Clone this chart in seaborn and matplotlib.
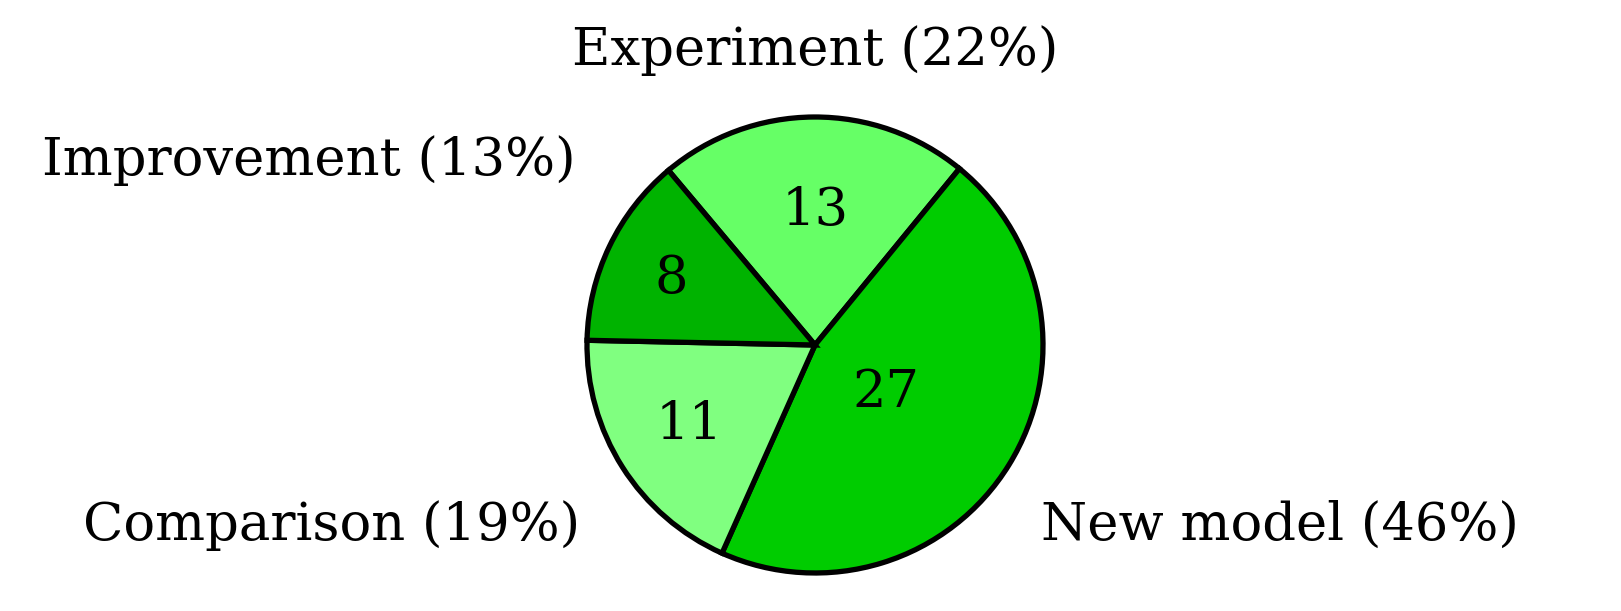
import matplotlib
matplotlib.use("Agg")
import matplotlib.pyplot as plt
import seaborn as sns

sns.set_theme(style="white")
plt.rcParams['font.family'] = ['DejaVu Serif']

categories = ["Experiment", "New model", "Comparison", "Improvement"]
values = [13, 27, 11, 8]
percents = ["22%", "46%", "19%", "13%"]
colors = ["#66ff66", "#00cc00", "#80ff80", "#00b300"]

fig = plt.figure(figsize=(16.21, 6.11), dpi=100)
ax = fig.add_axes([0, 0, 1, 1])
wedges, texts, autotexts = ax.pie(
    values, colors=colors, startangle=130, counterclock=False,
    labels=[f"{c} ({p})" for c, p in zip(categories, percents)],
    autopct=lambda p: f"{round(p * sum(values) / 100):d}",
    wedgeprops=dict(edgecolor="black", linewidth=3.8),
    textprops=dict(fontsize=38, color="black"))
label_pos = [(0, 1.29, "center"), (0.99, -0.79, "left"),
             (-1.03, -0.79, "right"), (-1.05, 0.81, "right")]
for t, (x, y, ha) in zip(texts, label_pos):
    t.set_position((x, y)); t.set_ha(ha); t.set_va("center")
num_pos = [(0, 0.59), (0.31, -0.21), (-0.55, -0.35), (-0.63, 0.29)]
for t, (x, y) in zip(autotexts, num_pos):
    t.set_position((x, y)); t.set_ha("center"); t.set_va("center")
ax.set_xlim(-815 / 228, (1621 - 815) / 228)
ax.set_ylim(-(611 - 345) / 228, 345 / 228)
ax.set_aspect("auto")
ax.axis("off")
fig.savefig("out.png", dpi=100, facecolor="white")
